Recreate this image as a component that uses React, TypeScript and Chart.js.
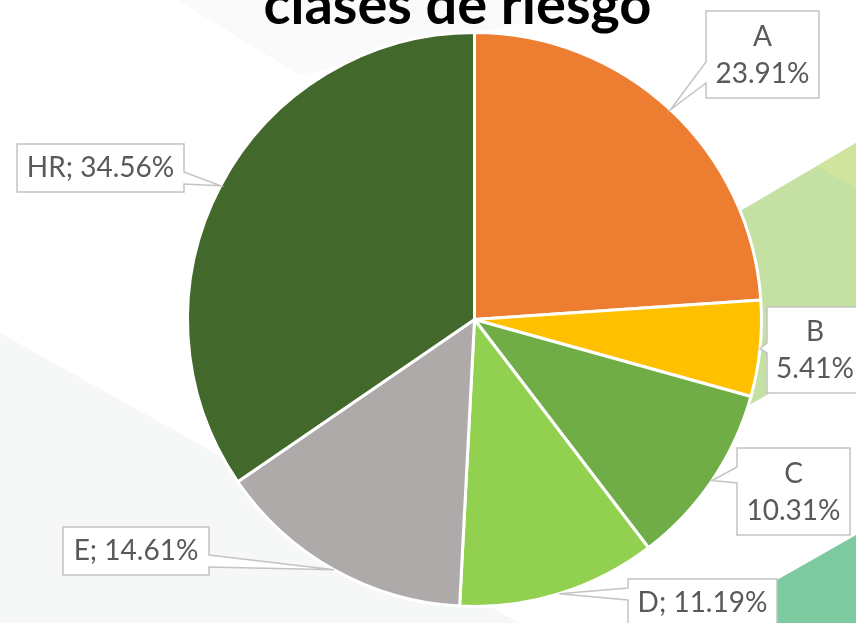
import React, { useEffect, useRef } from "react";
import { Chart, registerables } from "chart.js";

Chart.register(...registerables);

const titleText = "clases de riesgo";
const categories = ["A", "B", "C", "D", "E", "HR"];
const shares = [23.91, 5.41, 10.31, 11.19, 14.61, 34.56];
const sliceColors = ["#ED7D31", "#FFC000", "#70AD47", "#92D050", "#AEAAAA", "#43682B"];

// callout layout (box rect, side of the pointer, pointer base on that side, one or two lines)
const calloutLayout = [
  { x: 706, y: 11, w: 113, h: 87, side: "left", b1: 62, b2: 83, twoLines: true },
  { x: 767, y: 307, w: 96, h: 86, side: "left", b1: 343, b2: 353, twoLines: true },
  { x: 737, y: 448, w: 113, h: 87, side: "left", b1: 467, b2: 483, twoLines: true },
  { x: 628, y: 579, w: 149, h: 48, side: "left", b1: 588, b2: 600, twoLines: false },
  { x: 63, y: 527, w: 146, h: 48, side: "right", b1: 555, b2: 567, twoLines: false },
  { x: 17, y: 144, w: 167, h: 48, side: "right", b1: 172, b2: 184, twoLines: false },
];

const backgroundPlugin = {
  id: "bgDeco",
  beforeDraw(chart: any) {
    const ctx = chart.ctx as CanvasRenderingContext2D;
    const poly = (pts: number[][], color: string) => {
      ctx.beginPath();
      ctx.moveTo(pts[0][0], pts[0][1]);
      for (let i = 1; i < pts.length; i++) ctx.lineTo(pts[i][0], pts[i][1]);
      ctx.closePath();
      ctx.fillStyle = color;
      ctx.fill();
    };
    ctx.save();
    ctx.fillStyle = "#ffffff";
    ctx.fillRect(0, 0, chart.width, chart.height);
    poly([[177, 0], [300, 75], [620, 0]], "#FAFAFA");
    poly([[0, 333], [520, 623], [0, 623]], "#F6F7F7");
    poly([[650, 264], [856, 143], [856, 343], [650, 463]], "#C5E0A3");
    poly([[817, 166], [856, 143], [856, 188]], "#D0E49E");
    poly([[740, 624], [777, 580], [856, 535], [856, 623]], "#7DC9A0");
    ctx.restore();
  },
};

const calloutPlugin = {
  id: "callouts",
  afterDraw(chart: any) {
    const ctx = chart.ctx as CanvasRenderingContext2D;
    const meta = chart.getDatasetMeta(0);
    ctx.save();
    // title
    ctx.fillStyle = "#000000";
    ctx.font = "bold 56px Lato";
    ctx.textAlign = "center";
    ctx.textBaseline = "alphabetic";
    ctx.fillText(titleText, 457.5, 24);

    meta.data.forEach((arc: any, i: number) => {
      const p = arc.getProps(["x", "y", "startAngle", "endAngle", "outerRadius"], true);
      const mid = (p.startAngle + p.endAngle) / 2;
      const ax = p.x + Math.cos(mid) * p.outerRadius;
      const ay = p.y + Math.sin(mid) * p.outerRadius;
      const L = calloutLayout[i];
      ctx.beginPath();
      if (L.side === "left") {
        ctx.moveTo(L.x, L.y);
        ctx.lineTo(L.x + L.w, L.y);
        ctx.lineTo(L.x + L.w, L.y + L.h);
        ctx.lineTo(L.x, L.y + L.h);
        ctx.lineTo(L.x, L.b2);
        ctx.lineTo(ax, ay);
        ctx.lineTo(L.x, L.b1);
        ctx.closePath();
      } else {
        ctx.moveTo(L.x, L.y);
        ctx.lineTo(L.x + L.w, L.y);
        ctx.lineTo(L.x + L.w, L.b1);
        ctx.lineTo(ax, ay);
        ctx.lineTo(L.x + L.w, L.b2);
        ctx.lineTo(L.x + L.w, L.y + L.h);
        ctx.lineTo(L.x, L.y + L.h);
        ctx.closePath();
      }
      ctx.fillStyle = "#ffffff";
      ctx.fill();
      ctx.lineWidth = 1.5;
      ctx.strokeStyle = "#C4C4C4";
      ctx.lineJoin = "miter";
      ctx.stroke();

      ctx.fillStyle = "#595959";
      ctx.font = "28px Lato";
      ctx.textAlign = "center";
      ctx.textBaseline = "middle";
      const cx = L.x + L.w / 2;
      const cy = L.y + L.h / 2;
      const pct = shares[i].toFixed(2) + "%";
      if (L.twoLines) {
        ctx.fillText(categories[i], cx, cy - 18);
        ctx.fillText(pct, cx, cy + 19);
      } else {
        ctx.fillText(categories[i] + "; " + pct, cx, cy);
      }
    });
    ctx.restore();
  },
};

export default function App() {
  const ref = useRef<HTMLCanvasElement | null>(null);
  useEffect(() => {
    if (!ref.current) return;
    const chart = new Chart(ref.current, {
      type: "pie",
      data: {
        labels: categories,
        datasets: [
          {
            data: shares,
            backgroundColor: sliceColors,
            borderColor: "#ffffff",
            borderWidth: 3,
          },
        ],
      },
      options: {
        responsive: false,
        animation: false,
        layout: { padding: { top: 31, left: 186, right: 93, bottom: 15 } },
        plugins: {
          legend: { display: false },
          tooltip: { enabled: false },
          title: { display: false },
        },
      },
      plugins: [backgroundPlugin, calloutPlugin],
    });
    return () => chart.destroy();
  }, []);
  return (
    <div style={{ position: "absolute", left: 0, top: 0, width: 856, height: 623 }}>
      <canvas ref={ref} width={856} height={623} style={{ display: "block" }} />
    </div>
  );
}
